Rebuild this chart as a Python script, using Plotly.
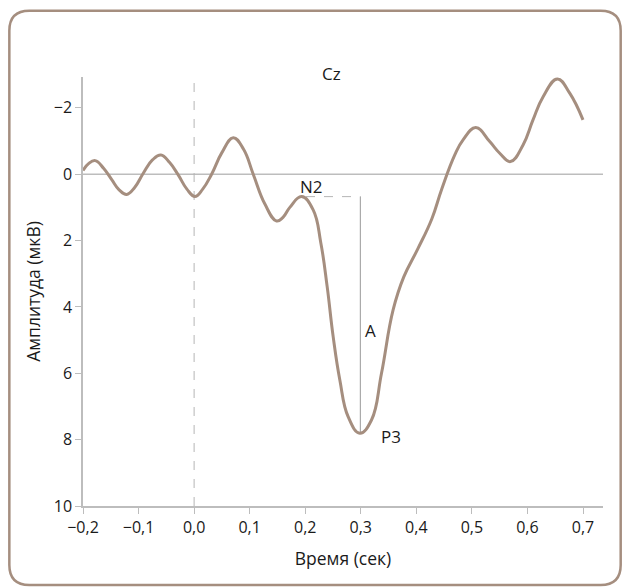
import plotly.graph_objects as go

# ---- data ----
time_s = [-0.2, -0.19, -0.178, -0.163, -0.148, -0.135, -0.1214, -0.107, -0.0915, -0.075,
          -0.0597, -0.044, -0.0286, -0.013, 0.0015, 0.0155, 0.0315, 0.05, 0.0704, 0.089,
          0.1064, 0.1274, 0.1484, 0.16, 0.1723, 0.1934, 0.2143, 0.2281, 0.2395, 0.2503,
          0.2623, 0.2772, 0.2983, 0.3193, 0.3373, 0.3582, 0.3774, 0.4026, 0.4278, 0.4458,
          0.4692, 0.4841, 0.5070, 0.5321, 0.5501, 0.5694, 0.5921, 0.6100, 0.6280, 0.6539,
          0.6761, 0.7000]
amp_uv = [-0.11, -0.32, -0.41, -0.18, 0.17, 0.47, 0.61, 0.40, -0.03, -0.43,
          -0.58, -0.35, 0.02, 0.45, 0.67, 0.45, 0.0, -0.65, -1.10, -0.75,
          0.0, 0.90, 1.41, 1.30, 1.00, 0.675, 1.076, 2.071, 3.389, 4.896,
          6.201, 7.308, 7.808, 7.407, 5.999, 4.091, 3.096, 2.252, 1.348, 0.443,
          -0.582, -1.034, -1.405, -0.983, -0.633, -0.380, -0.883, -1.637, -2.330, -2.873,
          -2.442, -1.637]

x_tick_vals = [-0.2, -0.1, 0.0, 0.1, 0.2, 0.3, 0.4, 0.5, 0.6, 0.7]
x_tick_text = ["−0,2", "−0,1", "0,0", "0,1", "0,2", "0,3", "0,4", "0,5", "0,6", "0,7"]
y_tick_vals = [-2, 0, 2, 4, 6, 8, 10]
y_tick_text = ["−2", "0", "2", "4", "6", "8", "10"]

n2_t, n2_v = 0.1934, 0.675
p3_t, p3_v = 0.2983, 7.808

title_text = "Cz"
x_title = "Время (сек)"
y_title = "Амплитуда (мкВ)"

# ---- layout geometry ----
W, H = 625, 588
L, R, T, B = 83, 21.7, 76.7, 82
pw, ph = W - L - R, H - T - B

def px2paper(px, py):
    return (px - L) / pw, (H - B - py) / ph

curve_color = "#a58e7f"
grid_gray = "#bdbdbd"
font_family = "Open Sans, Noto Sans, DejaVu Sans, sans-serif"
text_color = "#1a1a1a"

fig = go.Figure()
fig.add_trace(go.Scatter(x=time_s, y=amp_uv, mode="lines",
                         line=dict(color=curve_color, width=3, shape="spline", smoothing=1.25,
                                   simplify=False),
                         hoverinfo="skip", showlegend=False))

shapes = []
shapes.append(dict(type="line", xref="paper", yref="y", x0=0, x1=1, y0=0, y1=0,
                   line=dict(color=grid_gray, width=1.5), layer="below"))
shapes.append(dict(type="line", xref="x", yref="paper", x0=0, x1=0, y0=0, y1=1,
                   line=dict(color="#b5b5b5", width=1, dash="dash"), layer="below"))
shapes.append(dict(type="line", xref="x", yref="y", x0=n2_t + 0.008, x1=p3_t + 0.001, y0=n2_v, y1=n2_v,
                   line=dict(color="#b5b5b5", width=1, dash="dash"), layer="below"))
shapes.append(dict(type="line", xref="x", yref="y", x0=p3_t + 0.001, x1=p3_t + 0.001, y0=n2_v, y1=p3_v,
                   line=dict(color="#aaaaaa", width=1.2), layer="below"))

bx0, by0, bx1, by1, r = 9.3, 10.3, 621, 585, 20
def P(px, py):
    a, b = px2paper(px, py)
    return f"{a:.5f},{b:.5f}"
path = (f"M {P(bx0 + r, by0)} L {P(bx1 - r, by0)} Q {P(bx1, by0)} {P(bx1, by0 + r)} "
        f"L {P(bx1, by1 - r)} Q {P(bx1, by1)} {P(bx1 - r, by1)} "
        f"L {P(bx0 + r, by1)} Q {P(bx0, by1)} {P(bx0, by1 - r)} "
        f"L {P(bx0, by0 + r)} Q {P(bx0, by0)} {P(bx0 + r, by0)} Z")
shapes.append(dict(type="path", xref="paper", yref="paper", path=path,
                   line=dict(color=curve_color, width=2.5), layer="below"))

ann_font = dict(size=17, color=text_color)
annotations = [
    dict(x=0.211, y=0.38, xref="x", yref="y", text="N2", showarrow=False, font=ann_font),
    dict(x=0.317, y=4.70, xref="x", yref="y", text="A", showarrow=False, font=ann_font),
    dict(x=0.3546, y=7.91, xref="x", yref="y", text="P3", showarrow=False, font=ann_font),
]
tx, ty = px2paper(332, 60)
annotations.append(dict(x=tx, y=ty, xref="paper", yref="paper", text=title_text,
                        showarrow=False, font=dict(size=17, color=text_color)))

fig.update_layout(
    width=W, height=H,
    margin=dict(l=L, r=R, t=T, b=B),
    paper_bgcolor="white", plot_bgcolor="white",
    font=dict(family=font_family, size=16, color=text_color),
    shapes=shapes, annotations=annotations,
    showlegend=False,
)
fig.update_xaxes(range=[-0.2, 0.736], tickvals=x_tick_vals, ticktext=x_tick_text,
                 showgrid=False, zeroline=False, showline=True, linecolor=grid_gray, linewidth=1.5,
                 ticks="outside", ticklen=6, tickcolor=grid_gray, tickwidth=1.2,
                 tickfont=dict(size=16),
                 title=dict(text=x_title, font=dict(size=17.5), standoff=16))
fig.update_yaxes(range=[10, -2.93], tickvals=y_tick_vals, ticktext=y_tick_text,
                 showgrid=False, zeroline=False, showline=True, linecolor=grid_gray, linewidth=1.5,
                 ticks="outside", ticklen=6, tickcolor=grid_gray, tickwidth=1.2,
                 tickfont=dict(size=16),
                 title=dict(text=y_title, font=dict(size=17.5), standoff=9))

fig.write_html("out.html", config={"displayModeBar": False},
               post_script="document.body.style.margin='0';document.body.style.padding='0';")
